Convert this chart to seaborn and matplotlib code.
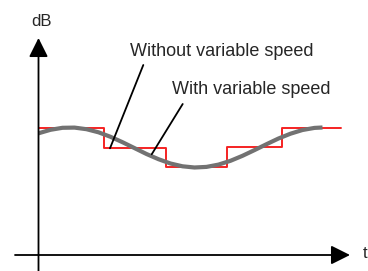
import matplotlib
matplotlib.use("Agg")
import matplotlib.pyplot as plt
import numpy as np
import pandas as pd
import seaborn as sns

# step curve: without variable speed (edges on time axis, level per segment)
step_t = [0, 65.5, 127, 188, 243, 302]
step_db = [127, 107, 88, 108, 127, 127]

# smooth curve: with variable speed
smooth_t = [0, 12, 24, 36, 48, 60, 72, 84, 96, 108, 120, 132, 144, 156,
            168, 180, 192, 204, 216, 228, 240, 252, 264, 276, 284]
smooth_db = [121.7, 125.2, 127.2, 127.4, 125.8, 122.7, 118.2, 112.8, 106.9,
             101.0, 95.8, 91.5, 88.7, 87.5, 88.1, 90.4, 94.2, 99.2, 104.9,
             110.8, 116.5, 121.3, 125.0, 127.1, 127.5]

label_without = "Without variable speed"
label_with = "With variable speed"
y_label = "dB"
x_label = "t"

sns.set_theme(style="white")
plt.rcParams["font.family"] = ["Liberation Sans", "DejaVu Sans"]

fig = plt.figure(figsize=(3.68, 2.71), dpi=100)
ax = fig.add_axes([0, 0, 1, 1])
ax.set_xlim(-38.5, 329.5)
ax.set_ylim(-16, 255)
ax.axis("off")

df_step = pd.DataFrame({"t": step_t, "db": step_db})
df_smooth = pd.DataFrame({"t": smooth_t, "db": smooth_db})

sns.lineplot(data=df_step, x="t", y="db", ax=ax, color="#f52222", lw=1.4,
             drawstyle="steps-post", zorder=2)
sns.lineplot(data=df_smooth, x="t", y="db", ax=ax, color="#727272", lw=3.0,
             zorder=3, solid_capstyle="butt")

# axes with arrow heads
arrow = dict(arrowstyle="-|>", color="black", lw=1.3, mutation_scale=29,
             shrinkA=0, shrinkB=0)
ax.annotate("", xy=(0, 217), xytext=(0, -16), arrowprops=arrow, zorder=4)
ax.annotate("", xy=(311.5, 0), xytext=(-23.5, 0), arrowprops=arrow, zorder=4)
ax.text(3, 234, y_label, ha="center", va="center", fontsize=12)
ax.text(327, 1, x_label, ha="center", va="center", fontsize=12)

# callouts
leader = dict(arrowstyle="-", color="black", lw=1.3, shrinkA=0, shrinkB=0)
ax.annotate("", xy=(71.5, 106.7), xytext=(104.8, 190), arrowprops=leader)
ax.annotate("", xy=(113.2, 100.7), xytext=(144.2, 151), arrowprops=leader)
ax.text(91.5, 203, label_without, ha="left", va="center", fontsize=13)
ax.text(133.5, 166, label_with, ha="left", va="center", fontsize=13)

fig.savefig("out.png", dpi=100)
